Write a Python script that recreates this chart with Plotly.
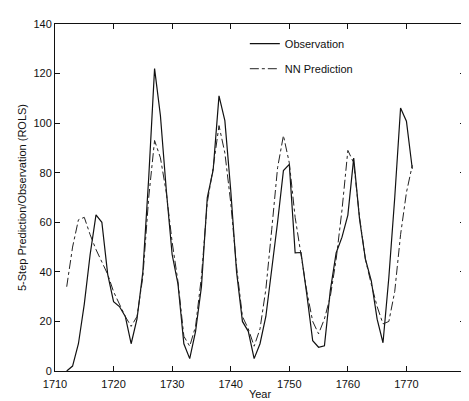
import plotly.graph_objects as go

years = list(range(1712, 1772))
observation = [0, 2, 11, 27, 47, 63, 60, 39, 28, 26, 22, 11, 21, 40, 78, 122, 103, 73, 47, 35,
               11, 5, 16, 34, 70, 81, 111, 101, 73, 40, 20, 16, 5, 11, 22, 40, 60, 80.9, 83.4, 47.7,
               47.8, 30.7, 12.2, 9.6, 10.2, 32.4, 47.6, 54.0, 62.9, 85.9, 61.2, 45.1, 36.4, 20.9, 11.4, 37.8,
               69.8, 106.1, 100.8, 81.6]
nn_prediction = [34, 50, 61, 62, 55, 49, 44, 39, 32, 27, 22, 18, 22, 38, 70, 93, 86, 72, 52, 36,
                 14, 10, 18, 38, 68, 82, 99, 88, 68, 42, 22, 17, 10, 17, 33, 57, 82, 95, 84, 62,
                 46, 32, 20, 15, 21, 30, 45, 65, 89, 84, 62, 45, 35, 26, 19, 20, 32, 55, 72, 83]

x_ticks = [1710, 1720, 1730, 1740, 1750, 1760, 1770, 1780]
y_ticks = [0, 20, 40, 60, 80, 100, 120, 140]

font = "Liberation Sans, Arial, Helvetica, sans-serif"

fig = go.Figure()
fig.add_trace(go.Scatter(x=years, y=observation, mode="lines", name="Observation",
                         legendgroup="obs",
                         line=dict(color="#111111", width=1.2)))
fig.add_trace(go.Scatter(x=years, y=nn_prediction, mode="lines", name="NN Prediction",
                         legendgroup="nn",
                         line=dict(color="#222222", width=1, dash="dashdot")))

axis_common = dict(showgrid=False, zeroline=False, showline=True, linecolor="#111111", linewidth=1,
                   mirror="ticks", ticks="inside", ticklen=5, tickcolor="#111111",
                   tickfont=dict(family=font, size=11, color="#111111"))

fig.update_layout(
    width=469, height=401,
    margin=dict(l=47, r=12, t=10, b=32),
    paper_bgcolor="white", plot_bgcolor="white",
    xaxis=dict(range=[1710, 1780], tickvals=x_ticks, ticklabelstandoff=3,
               title=dict(text="Year", font=dict(family=font, size=11, color="#111111"), standoff=1),
               **axis_common),
    yaxis=dict(range=[0, 140], tickvals=y_ticks,
               title=dict(text="5-Step Prediction/Observation (ROLS)", font=dict(family=font, size=11, color="#111111"), standoff=4),
               **axis_common),
    legend=dict(x=0.463, y=0.985, xanchor="left", yanchor="top", bgcolor="rgba(0,0,0,0)",
                font=dict(family=font, size=11, color="#111111"), itemwidth=30,
                tracegroupgap=6),
    showlegend=True,
)

fig.write_html("out.html")
